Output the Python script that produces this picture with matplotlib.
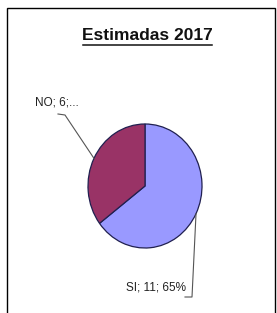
import numpy as np
import matplotlib
matplotlib.use("Agg")
import matplotlib.pyplot as plt
from matplotlib.lines import Line2D
from matplotlib.patches import Rectangle

title = "Estimadas 2017"
categories = ["SI", "NO"]
values = [11, 6]
label_texts = ["SI; 11; 65%", "NO; 6;..."]
colors = ["#9999FF", "#993366"]

W, H = 277, 313
fig = plt.figure(figsize=(W / 100, H / 100), dpi=100)
fig.patch.set_facecolor("white")

def fx(px):
    return px / W

def fy(py):
    return 1 - py / H

# outer frame
fig.add_artist(Rectangle((fx(7), fy(320)), fx(275) - fx(7), fy(8) - fy(320),
                         transform=fig.transFigure, fill=False,
                         edgecolor="black", linewidth=1.0))

# title, underlined
fig.text(fx(147.5), fy(35), title, ha="center", va="center",
         fontsize=12.5, fontweight="bold", family="Liberation Sans",
         color="#111111")
fig.add_artist(Line2D([fx(83), fx(212)], [fy(45), fy(45)],
                      transform=fig.transFigure, color="#111111", linewidth=1.1))

# pie (slightly taller than wide, as in the reference)
cx, cy, rx, ry = 145, 186, 57, 62
ax = fig.add_axes([fx(cx - rx), fy(cy + ry), fx(2 * rx), fy(cy - ry) - fy(cy + ry)])
wedges, _ = ax.pie(values, colors=colors, startangle=90, counterclock=False,
                   wedgeprops=dict(edgecolor="#202050", linewidth=0.9))
ax.set_aspect("auto")
ax.set_xlim(-1, 1)
ax.set_ylim(-1, 1)
ax.axis("off")

def edge_px(w):
    ang = np.deg2rad((w.theta1 + w.theta2) / 2)
    return cx + rx * np.cos(ang), cy - ry * np.sin(ang)

# NO label
x0, y0 = edge_px(wedges[1])
fig.add_artist(Line2D([fx(x0), fx(65), fx(58)], [fy(y0), fy(115), fy(114)],
                      transform=fig.transFigure, color="#555555", linewidth=0.8))
fig.text(fx(35), fy(103), label_texts[1], ha="left", va="center",
         fontsize=8.5, family="Liberation Sans", color="#222222")

# SI label
x1, y1 = edge_px(wedges[0])
fig.add_artist(Line2D([fx(x1), fx(192), fx(185)], [fy(y1), fy(297), fy(297)],
                      transform=fig.transFigure, color="#555555", linewidth=0.8))
fig.text(fx(126), fy(287), label_texts[0], ha="left", va="center",
         fontsize=8.5, family="Liberation Sans", color="#222222")

fig.savefig("out.png", dpi=100)
